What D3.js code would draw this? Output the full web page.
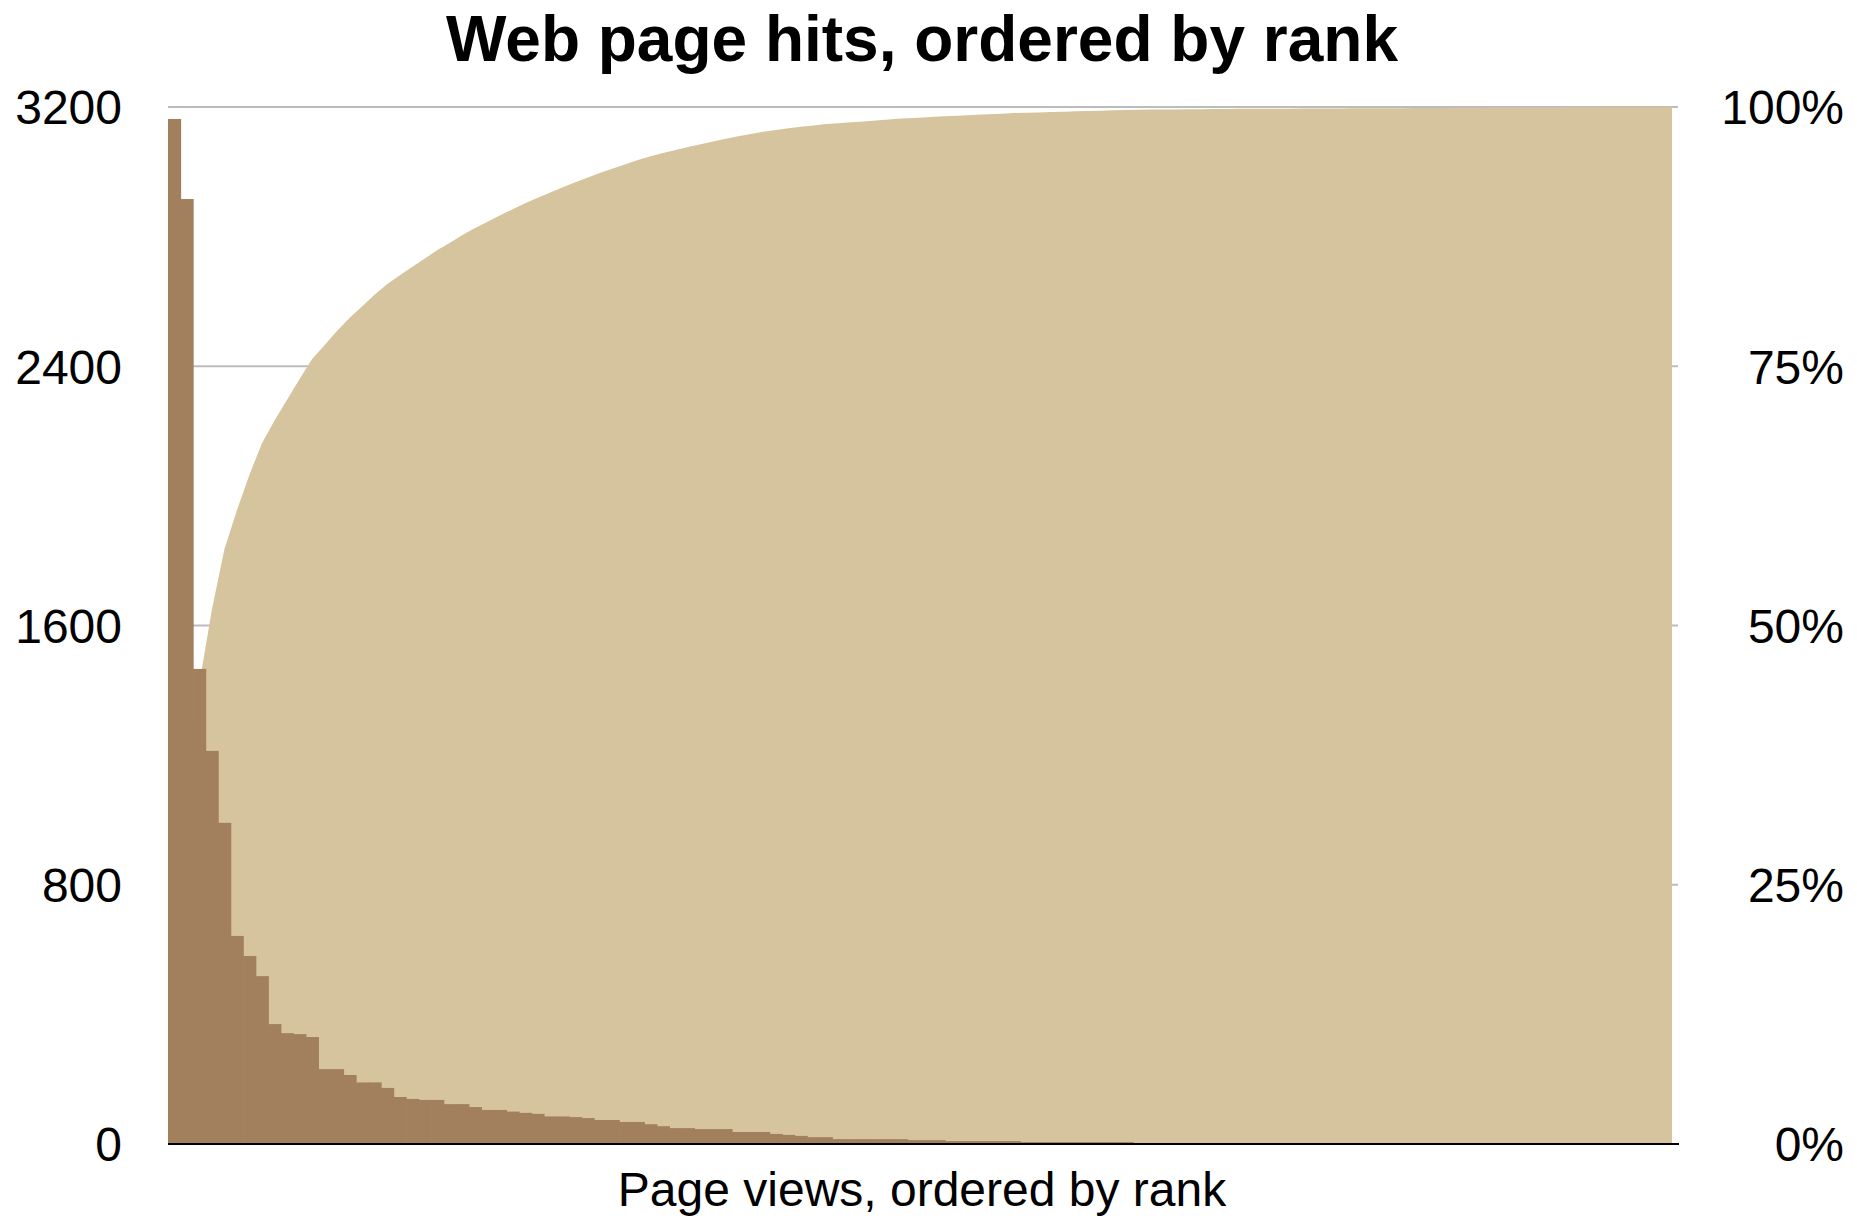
<!DOCTYPE html>
<html><head><meta charset="utf-8">
<script src="https://cdn.jsdelivr.net/npm/d3@7"></script>
<style>
body{margin:0;background:#fff;}
svg{display:block;font-family:"Liberation Sans", Arial, Helvetica, sans-serif;}
</style>
</head><body>
<svg id="chart" width="1857" height="1218"></svg>
<script>
// ---- data ----
const ranks = d3.range(1, 121);
const hits = [3163,2916,1466,1213,991,642,580,518,370,342,
  339,330,231,231,213,190,190,173,145,139,
  136,136,123,123,114,105,105,100,96,93,
  85,85,83,80,74,74,68,68,61,55,
  49,49,46,46,46,37,37,37,31,28,
  25,21,21,15,15,15,15,15,15,12,
  12,12,9,9,9,9,9,9,6,6,
  6,6,6,6,6,6,6,2,2,2,
  2,2,2,2,1,1,1,1,1,1,
  1,1,1,1,1,1,1,1,1,1,
  1,1,1,1,1,1,1,1,1,1,
  1,1,1,1,1,1,1,0,0,0];
const cumulativePct = [18.61,35.76,44.38,51.52,57.35,61.12,64.54,67.58,69.76,71.77,
  73.76,75.71,77.06,78.42,79.68,80.79,81.91,82.93,83.78,84.60,
  85.40,86.20,86.92,87.65,88.32,88.94,89.55,90.14,90.71,91.25,
  91.75,92.25,92.74,93.21,93.65,94.08,94.48,94.88,95.24,95.56,
  95.85,96.14,96.41,96.68,96.95,97.17,97.39,97.61,97.79,97.95,
  98.10,98.22,98.35,98.44,98.52,98.61,98.70,98.79,98.88,98.95,
  99.02,99.09,99.14,99.19,99.25,99.30,99.35,99.41,99.44,99.48,
  99.51,99.55,99.58,99.62,99.65,99.69,99.72,99.74,99.75,99.76,
  99.77,99.78,99.79,99.81,99.81,99.82,99.82,99.83,99.84,99.84,
  99.85,99.85,99.86,99.86,99.87,99.88,99.88,99.89,99.89,99.90,
  99.91,99.91,99.92,99.92,99.93,99.94,99.94,99.95,99.95,99.96,
  99.96,99.97,99.98,99.98,99.99,99.99,100,100,100,100];
const leftTicks = [0, 800, 1600, 2400, 3200];
const rightTicks = [0, 25, 50, 75, 100];
const titleText = "Web page hits, ordered by rank";
const xLabelText = "Page views, ordered by rank";

// ---- layout ----
const plot = {left: 168, right: 1672, top: 107, bottom: 1144};
const svg = d3.select('#chart');

const x = d3.scaleBand().domain(ranks).range([plot.left, plot.right]).padding(0);
const y = d3.scaleLinear().domain([0, 3200]).range([plot.bottom, plot.top]);
const y2 = d3.scaleLinear().domain([0, 100]).range([plot.bottom, plot.top]);

// gridlines (behind everything)
svg.append('g').selectAll('line').data(leftTicks.filter(d => d > 0)).join('line')
  .attr('x1', plot.left).attr('x2', plot.right + 6)
  .attr('y1', d => y(d)).attr('y2', d => y(d))
  .attr('stroke', '#bcbcbc').attr('stroke-width', 2);

// cumulative area
const n = ranks.length;
const area = d3.area()
  .x((d, i) => x(ranks[i]) + (i === n - 1 ? x.bandwidth() : x.bandwidth() / 2))
  .y0(y2(0))
  .y1(d => y2(d));
svg.append('path').datum(cumulativePct).attr('d', area).attr('fill', '#d5c49d');

// bars
svg.append('g').selectAll('rect').data(hits).join('rect')
  .attr('x', (d, i) => x(ranks[i]))
  .attr('width', x.bandwidth() + 0.6)
  .attr('y', d => y(d))
  .attr('height', d => y(0) - y(d))
  .attr('fill', '#a27f5d');

// baseline
svg.append('line')
  .attr('x1', plot.left).attr('x2', plot.right + 7)
  .attr('y1', y(0)).attr('y2', y(0))
  .attr('stroke', '#000').attr('stroke-width', 2);

// left axis labels
svg.append('g').selectAll('text').data(leftTicks).join('text')
  .attr('x', 122).attr('y', d => y(d)).attr('dy', '0.36em')
  .attr('text-anchor', 'end').attr('font-size', 48).attr('fill', '#000')
  .text(d => d);

// right axis labels
svg.append('g').selectAll('text').data(rightTicks).join('text')
  .attr('x', 1844).attr('y', d => y2(d)).attr('dy', '0.36em')
  .attr('text-anchor', 'end').attr('font-size', 48).attr('fill', '#000')
  .text(d => d + '%');

// title
svg.append('text')
  .attr('x', (plot.left + plot.right) / 2 + 2).attr('y', 61)
  .attr('text-anchor', 'middle').attr('font-size', 64).attr('font-weight', 'bold')
  .text(titleText);

// x-axis label
svg.append('text')
  .attr('x', (plot.left + plot.right) / 2 + 2).attr('y', 1206)
  .attr('text-anchor', 'middle').attr('font-size', 48)
  .text(xLabelText);
</script>
</body></html>
